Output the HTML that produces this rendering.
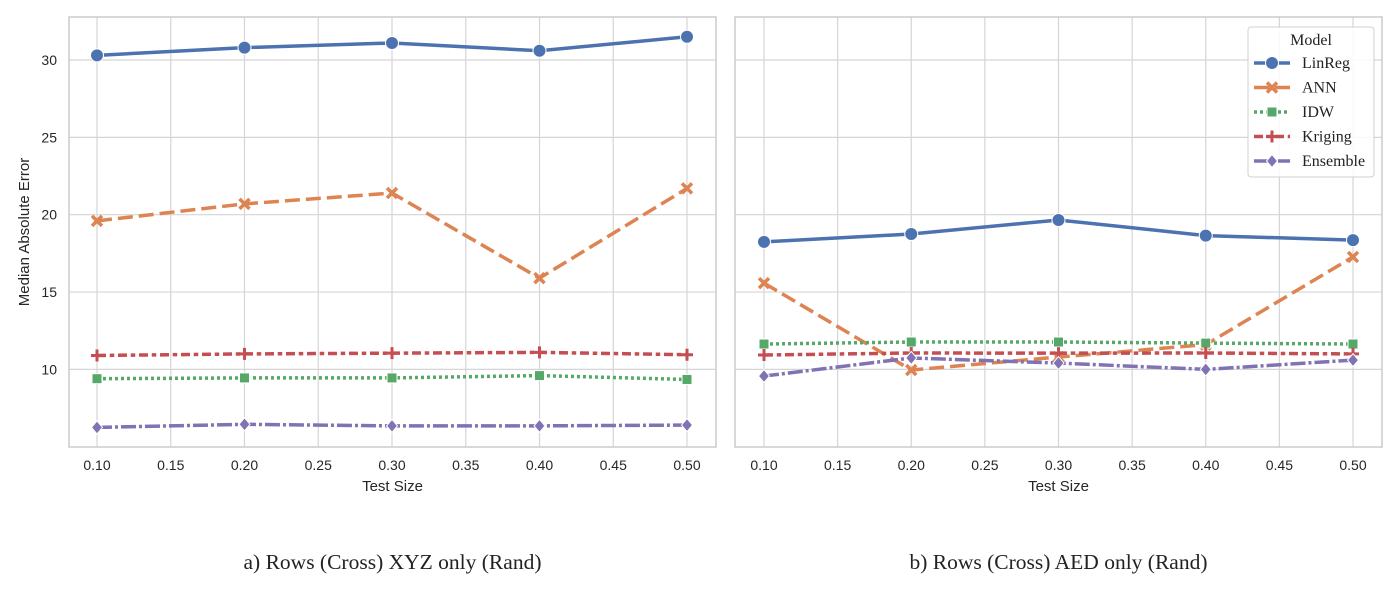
<!DOCTYPE html>
<html><head><meta charset="utf-8"><style>
body{margin:0;background:#fff;}
svg text{font-family:"Liberation Sans",sans-serif;}
.serif{font-family:"Liberation Serif",serif !important;}
</style></head><body>
<svg id="chart" width="1400" height="600" viewBox="0 0 1400 600" xmlns="http://www.w3.org/2000/svg"></svg>
<script>
const xTicks=[0.10,0.15,0.20,0.25,0.30,0.35,0.40,0.45,0.50];
const yTicks=[10,15,20,25,30];
const testSizes=[0.10,0.20,0.30,0.40,0.50];
const models=["LinReg","ANN","IDW","Kriging","Ensemble"];
const leftLinReg=[30.3,30.8,31.1,30.6,31.5];
const leftANN=[19.6,20.7,21.4,15.9,21.7];
const leftIDW=[9.4,9.45,9.45,9.6,9.35];
const leftKriging=[10.9,11.0,11.05,11.1,10.95];
const leftEnsemble=[6.25,6.45,6.35,6.35,6.4];
const rightLinReg=[18.24,18.75,19.66,18.65,18.36];
const rightANN=[15.58,9.96,10.8,11.6,17.27];
const rightIDW=[11.64,11.77,11.77,11.7,11.64];
const rightKriging=[10.93,11.06,11.05,11.06,11.0];
const rightEnsemble=[9.57,10.74,10.41,10.0,10.6];

const NS="http://www.w3.org/2000/svg";
const svg=document.getElementById('chart');
function mk(tag,attrs,parent){const e=document.createElementNS(NS,tag);for(const k in attrs)e.setAttribute(k,attrs[k]);(parent||svg).appendChild(e);return e;}
const colors=["#4c72b0","#dd8452","#55a868","#c44e52","#8172b3"];
const dashes=["none","15 6","3 3","9 3.75 4.5 3.75","15 3 3 3"];
const yScale=v=>60+(30-v)*15.47;
function marker(m,x,y,c,g,s){
  s=s||1;let e;
  if(m===0){e=mk('circle',{cx:x,cy:y,r:6.5*s,fill:c,stroke:'#fff','stroke-width':1},g);}
  else if(m===1){e=mk('path',{d:`M${x-5*s},${y-5*s}L${x+5*s},${y+5*s}M${x-5*s},${y+5*s}L${x+5*s},${y-5*s}`,stroke:c,'stroke-width':3.5,fill:'none'},g);}
  else if(m===2){e=mk('rect',{x:x-5*s,y:y-5*s,width:10*s,height:10*s,fill:c,stroke:'#fff','stroke-width':1},g);}
  else if(m===3){e=mk('path',{d:`M${x-6*s},${y}L${x+6*s},${y}M${x},${y-6*s}L${x},${y+6*s}`,stroke:c,'stroke-width':3,fill:'none'},g);}
  else {e=mk('path',{d:`M${x},${y-6.5*s}L${x+5.5*s},${y}L${x},${y+6.5*s}L${x-5.5*s},${y}Z`,fill:c,stroke:'#fff','stroke-width':1},g);}
  return e;
}
function panel(x0,x1,xa,xb,series,name,title,showY){
  const g=mk('g',{});
  
  
  const xScale=v=>xa+(v-0.10)/0.40*(xb-xa);
  const top=17,bot=447;
  xTicks.forEach(t=>{const x=xScale(t);
    mk('line',{x1:x,x2:x,y1:top,y2:bot,stroke:'#d5d5d5','stroke-width':1.2},g);
    const tx=mk('text',{x:x,y:470,'text-anchor':'middle','font-size':14,fill:'#262626'},g);tx.textContent=t.toFixed(2);
    });
  yTicks.forEach(t=>{const y=yScale(t);
    mk('line',{x1:x0,x2:x1,y1:y,y2:y,stroke:'#d5d5d5','stroke-width':1.2},g);
    if(showY){const tx=mk('text',{x:x0-12,y:y+5,'text-anchor':'end','font-size':14,fill:'#262626'},g);tx.textContent=t;
    }});
  const fr=mk('rect',{x:x0,y:top,width:x1-x0,height:bot-top,fill:'none',stroke:'#cccccc','stroke-width':1.5},g);
  
  series.forEach((vals,i)=>{
    const sg=mk('g',{},g);
    
    
    const pts=vals.map((v,j)=>xScale(testSizes[j])+','+yScale(v)).join(' ');
    const a={points:pts,fill:'none',stroke:colors[i],'stroke-width':3.5};
    if(dashes[i]!=='none')a['stroke-dasharray']=dashes[i];
    mk('polyline',a,sg);
    vals.forEach((v,j)=>{const m=marker(i,xScale(testSizes[j]),yScale(v),colors[i],sg);
      });
  });
  const xl=mk('text',{x:(x0+x1)/2,y:491,'text-anchor':'middle','font-size':15,fill:'#262626'},g);xl.textContent='Test Size';
  
  const ct=mk('text',{x:(x0+x1)/2,y:569,'text-anchor':'middle','font-size':21.5,fill:'#222',class:'serif'},g);ct.textContent=title;
  
}
panel(69,716,97,687,[leftLinReg,leftANN,leftIDW,leftKriging,leftEnsemble],'panel-left','a) Rows (Cross) XYZ only (Rand)',true);
panel(735,1382,764,1353,[rightLinReg,rightANN,rightIDW,rightKriging,rightEnsemble],'panel-right','b) Rows (Cross) AED only (Rand)',false);
const yl=mk('text',{x:29,y:232,'text-anchor':'middle','font-size':15,fill:'#262626',transform:'rotate(-90 29 232)'});
yl.textContent='Median Absolute Error';


const lg=mk('g',{});


mk('rect',{x:1248,y:27,width:126,height:150,rx:3,fill:'#fff','fill-opacity':0.85,stroke:'#d0d0d0','stroke-width':1},lg);
const lt=mk('text',{x:1311,y:45,'text-anchor':'middle','font-size':16,fill:'#222',class:'serif'},lg);lt.textContent='Model';

models.forEach((m,i)=>{
  const y=63+i*24.5;
  const eg=mk('g',{},lg);
  
  
  const a={x1:1254,x2:1290,y1:y,y2:y,stroke:colors[i],'stroke-width':3.5};
  if(dashes[i]!=='none')a['stroke-dasharray']=dashes[i];
  mk('line',a,eg);
  marker(i,1272,y,colors[i],eg);
  const t=mk('text',{x:1302,y:y+5,'font-size':16,fill:'#222',class:'serif'},eg);t.textContent=m;
});
</script>
</body></html>
